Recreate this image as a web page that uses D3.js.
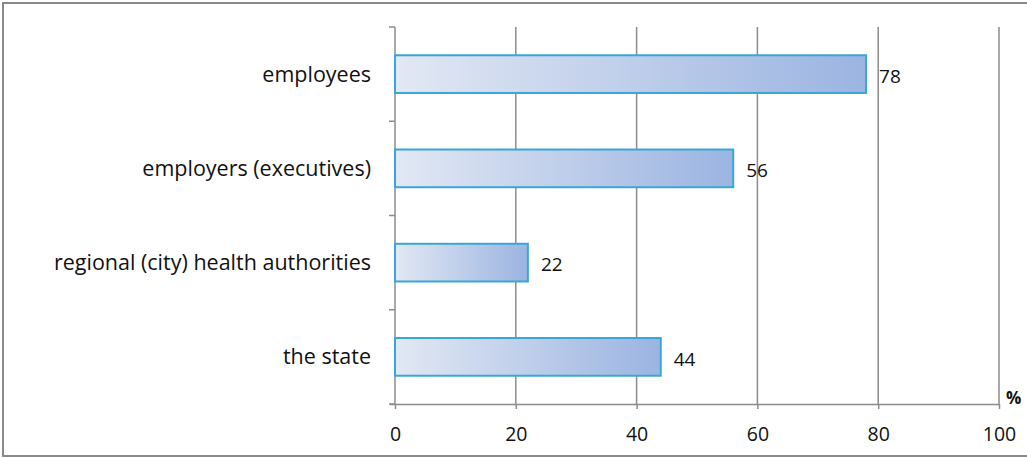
<!DOCTYPE html>
<html><head><meta charset="utf-8">
<script src="https://cdn.jsdelivr.net/npm/d3@7"></script>
<style>body{margin:0;background:#fff}svg{display:block}</style>
</head><body>
<svg id="c" width="1027" height="458"></svg>
<script>
const categories = ["employees", "employers (executives)", "regional (city) health authorities", "the state"];
const values = [78, 56, 22, 44];
const xTicks = [0, 20, 40, 60, 80, 100];
const unitLabel = "%";

const FONT = "'Open Sans', sans-serif";
const svg = d3.select("#c");
const W = 1027, H = 458;
const m = {left: 395, right: 28, top: 27, bottom: 54};
const x = d3.scaleLinear().domain([0, 100]).range([m.left, W - m.right]);
const y = d3.scaleBand().domain(categories).range([m.top, H - m.bottom]).paddingInner(0.6).paddingOuter(0.3);
const yb = d3.scaleBand().domain(categories).range([m.top, H - m.bottom]);

// frame
svg.append("rect").attr("x", 3).attr("y", 3).attr("width", W + 10).attr("height", H - 5)
  .attr("fill", "none").attr("stroke", "#8a8a8a").attr("stroke-width", 2);

const defs = svg.append("defs");
const g = defs.append("linearGradient").attr("id", "bg").attr("x1", "0%").attr("x2", "100%").attr("y1", "0%").attr("y2", "0%");
g.append("stop").attr("offset", "0%").attr("stop-color", "#e2e8f4");
g.append("stop").attr("offset", "100%").attr("stop-color", "#9bb4e1");

// gridlines
svg.append("g").selectAll("line").data(xTicks.filter(d => d > 0)).join("line")
  .attr("x1", d => x(d)).attr("x2", d => x(d))
  .attr("y1", m.top).attr("y2", H - m.bottom)
  .attr("stroke", "#8c8c8c").attr("stroke-width", 1.5);

// bottom axis
const xa = svg.append("g").attr("transform", `translate(0,${H - m.bottom})`)
  .call(d3.axisBottom(x).tickValues(xTicks).tickSize(5).tickPadding(18).tickSizeOuter(0));
xa.select(".domain").attr("stroke", "#8c8c8c").attr("stroke-width", 1.5).attr("d", `M${m.left - 5},0.5H${x(100)}`);
xa.selectAll(".tick line").attr("stroke", "#8c8c8c").attr("stroke-width", 1.5);
xa.selectAll(".tick text").attr("font-family", FONT).attr("font-size", 19.5).attr("fill", "#111");

// left axis line with band ticks
const la = svg.append("g");
la.append("line").attr("x1", m.left).attr("x2", m.left).attr("y1", m.top).attr("y2", H - m.bottom)
  .attr("stroke", "#8c8c8c").attr("stroke-width", 1.5);
const bandEdges = categories.map(c => yb(c)).concat([H - m.bottom]);
la.selectAll("line.t").data(bandEdges).join("line").attr("class", "t")
  .attr("x1", m.left - 6).attr("x2", m.left).attr("y1", d => d).attr("y2", d => d)
  .attr("stroke", "#8c8c8c").attr("stroke-width", 1.5);

// category labels
svg.append("g").selectAll("text").data(categories).join("text")
  .attr("x", 371).attr("y", d => yb(d) + yb.bandwidth() / 2)
  .attr("dy", "0.35em").attr("text-anchor", "end")
  .attr("font-family", FONT).attr("font-size", 21.5).attr("fill", "#111")
  .text(d => d);

// bars
svg.append("g").selectAll("rect").data(categories).join("rect")
  .attr("x", x(0)).attr("y", d => y(d))
  .attr("width", (d, i) => x(values[i]) - x(0)).attr("height", y.bandwidth())
  .attr("fill", "url(#bg)").attr("stroke", "#3aa6d8").attr("stroke-width", 2);

// value labels
svg.append("g").selectAll("text").data(categories).join("text")
  .attr("x", (d, i) => x(values[i]) + 13).attr("y", d => y(d) + y.bandwidth() / 2 + 2)
  .attr("dy", "0.35em")
  .attr("font-family", FONT).attr("font-size", 19).attr("fill", "#111")
  .text((d, i) => values[i]);

// unit
svg.append("text").attr("x", 1006).attr("y", 404).attr("font-family", FONT)
  .attr("font-size", 17).attr("font-weight", "bold").attr("fill", "#111").text(unitLabel);
</script>
</body></html>
